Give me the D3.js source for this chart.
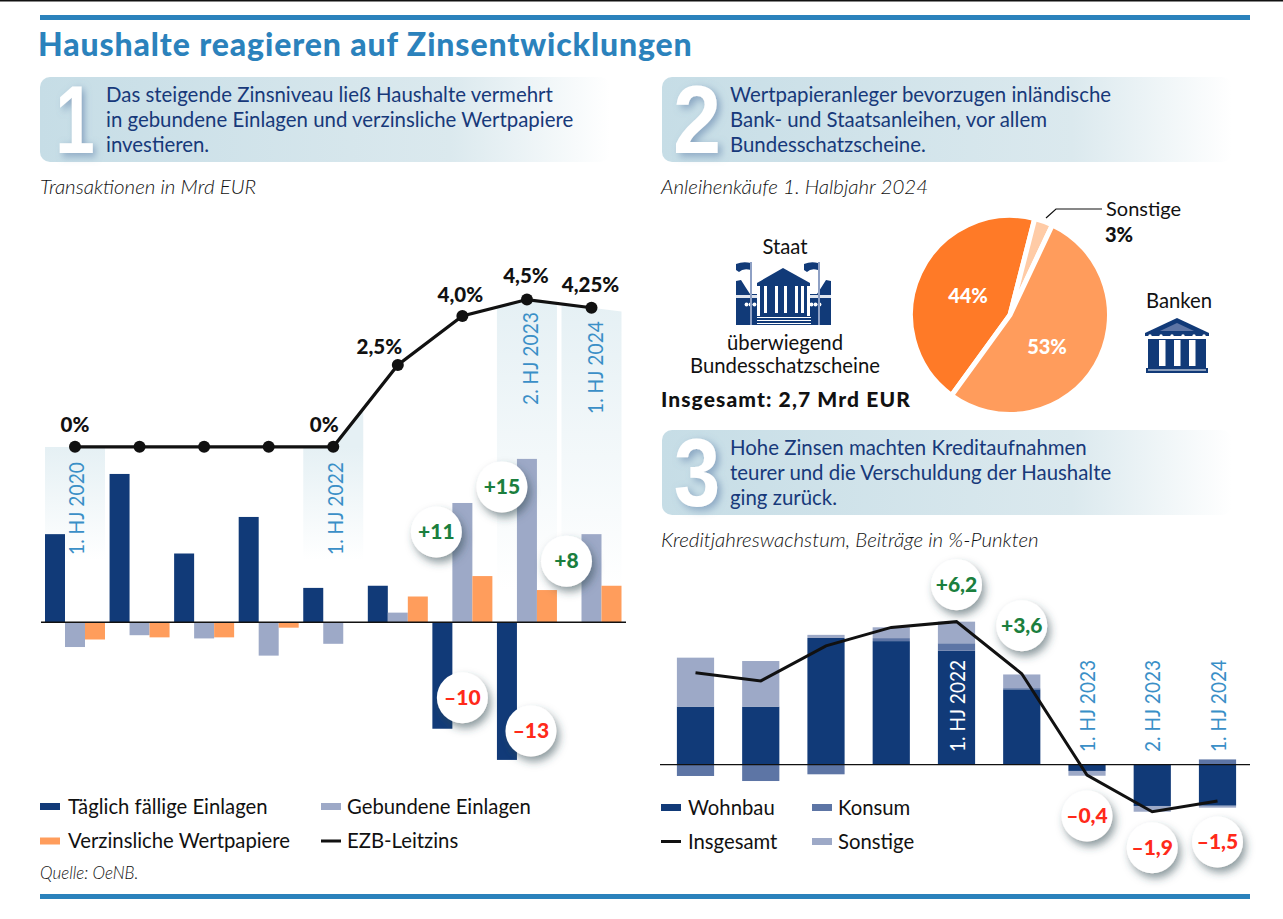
<!DOCTYPE html>
<html lang="de"><head><meta charset="utf-8">
<script src="https://cdnjs.cloudflare.com/ajax/libs/d3/7.9.0/d3.min.js"></script>
<style>
html,body{margin:0;padding:0;background:#fff}
svg{display:block}
text{font-family:Lato,"Noto Sans",sans-serif;fill:#111}
.it{font-style:italic;font-weight:300;fill:#111}
.box{fill:#17397a}
.rot{fill:#3a8fc7;font-size:22px}
.bub{font-weight:900;font-size:21px;text-anchor:middle}
</style></head><body>
<svg id="c" width="1283" height="919"></svg>
<script>
// ---------- data ----------
const periods = ['1. HJ 2020','2. HJ 2020','1. HJ 2021','2. HJ 2021','1. HJ 2022','2. HJ 2022','1. HJ 2023','2. HJ 2023','1. HJ 2024'];
const taeglich = [8.2,13.8,6.4,9.8,3.2,3.4,-9.9,-12.8,0];
const gebunden = [-2.3,-1.2,-1.5,-3.1,-2.0,0.9,11.1,15.2,8.2];
const wertpapiere = [-1.6,-1.4,-1.4,-0.5,0,2.4,4.3,3.0,3.4];
const leitzins = [0,0,0,0,0,2.5,4.0,4.5,4.25];
const leitzinsLabels = ['0%','0%','2,5%','4,0%','4,5%','4,25%'];
const wohnbau = [2.42,2.42,5.28,5.15,4.75,3.14,-0.26,-1.72,-1.71];
const konsum = [-0.47,-0.68,-0.40,0.125,0.31,0.05,0,0,0.22];
const sonstige = [2.04,1.9,0.13,0.45,0.9,0.57,-0.2,-0.24,-0.08];
const insgesamt = [3.83,3.49,4.95,5.72,5.96,3.79,-0.43,-1.96,-1.51];
const pieCategories = ['Staat','Sonstige','Banken'];
const pieValues = [44,3,53];
const bubbles1 = ['+11','+15','+8','–10','–13'];
const bubbles3 = ['+6,2','+3,6','–0,4','–1,9','–1,5'];
const legend1 = ['Täglich fällige Einlagen','Gebundene Einlagen','Verzinsliche Wertpapiere','EZB-Leitzins'];
const legend3 = ['Wohnbau','Konsum','Insgesamt','Sonstige'];

// ---------- palette ----------
const NAVY='#113a78',GREY='#9da9c7',ORANGE='#ff9d5c',KONS='#5d75a5',BLUE='#2b82bc',GREEN='#1b7f3e',RED='#ff2a1a';

const svg=d3.select('#c');
const defs=svg.append('defs');
const sh=defs.append('filter').attr('id','sh').attr('x','-40%').attr('y','-40%').attr('width','190%').attr('height','190%');
sh.append('feDropShadow').attr('dx',3).attr('dy',5).attr('stdDeviation',4.5).attr('flood-color','#33484f').attr('flood-opacity',.55);
const nsh=defs.append('filter').attr('id','nsh').attr('x','-40%').attr('y','-20%').attr('width','190%').attr('height','150%');
nsh.append('feDropShadow').attr('dx',4).attr('dy',3).attr('stdDeviation',4).attr('flood-color','#5f7fa8').attr('flood-opacity',.6);
const bg=defs.append('linearGradient').attr('id','boxg');
bg.append('stop').attr('offset','0').attr('stop-color','#c6dde6');
bg.append('stop').attr('offset','.72').attr('stop-color','#dbe9ee');
bg.append('stop').attr('offset','1').attr('stop-color','#ffffff');

// ---------- frame ----------
svg.append('rect').attr('x',0).attr('y',0).attr('width',1283).attr('height',1.5).attr('fill','#111');
[15,894].forEach(y=>svg.append('rect').attr('x',40).attr('y',y).attr('width',1210).attr('height',5).attr('fill',BLUE));
svg.append('text').attr('x',38).attr('y',56).attr('font-size',32).attr('font-weight',900).attr('letter-spacing',.88).style('fill',BLUE).text('Haushalte reagieren auf Zinsentwicklungen');

function box(x,y,num,lines,tx,sx){
  svg.append('rect').attr('x',x).attr('y',y).attr('width',570).attr('height',85).attr('rx',10).attr('fill','url(#boxg)');
  svg.append('text').attr('transform',`translate(${x+35},${y+76}) scale(${sx},1)`).attr('text-anchor','middle').attr('font-size',96).attr('font-weight',700)
    .style('font-family','"Liberation Sans",Arial,sans-serif').style('fill','#fff').attr('filter','url(#nsh)').text(num);
  lines.forEach((t,i)=>svg.append('text').attr('class','box').attr('x',x+tx).attr('y',y+24.5+i*25).attr('font-size',20.4).text(t));
}
box(40,77,'1',['Das steigende Zinsniveau ließ Haushalte vermehrt','in gebundene Einlagen und verzinsliche Wertpapiere','investieren.'],66,.74);
box(662,77,'2',['Wertpapieranleger bevorzugen inländische','Bank- und Staatsanleihen, vor allem','Bundesschatzscheine.'],68,.9);
box(662,430,'3',['Hohe Zinsen machten Kreditaufnahmen','teurer und die Verschuldung der Haushalte','ging zurück.'],68,.87);
[[40,194,'Transaktionen in Mrd EUR'],[661,194,'Anleihenkäufe 1. Halbjahr 2024'],[661,547,'Kreditjahreswachstum, Beiträge in %-Punkten']]
 .forEach(d=>svg.append('text').attr('class','it').attr('x',d[0]).attr('y',d[1]).attr('font-size',20.5).text(d[2]));
svg.append('text').attr('class','it').attr('x',40).attr('y',879).attr('font-size',17).text('Quelle: OeNB.');

// ---------- chart 1 ----------
const x1=d3.scalePoint().domain(periods).range([75,591.5]);
const y1=d3.scaleLinear().domain([0,10]).range([622.3,514.8]);
const yR=d3.scaleLinear().domain([0,2.5]).range([446.8,365]);
const rateLine=d3.line().x((d,i)=>x1(periods[i])).y(d=>yR(d));

// shaded period columns, topped by the rate line
const step=x1.step();
const extra=[{x:20,y:yR(0)},...leitzins.map((d,i)=>({x:x1(periods[i]),y:yR(d)})),
  {x:x1(periods[8])+40,y:yR(leitzins[8]+(leitzins[8]-leitzins[7])*40/step)}];
const clipArea=d3.area().x(d=>d.x).y0(640).y1(d=>d.y);
defs.append('clipPath').attr('id','underRate').append('path').attr('d',clipArea(extra));
[[0,447,560],[4,400,560],[7,290,590],[8,290,590]].forEach(([k,t,b])=>{
  const g=defs.append('linearGradient').attr('id','sg'+k).attr('gradientUnits','userSpaceOnUse').attr('x1',0).attr('x2',0).attr('y1',k<5?447:t+10).attr('y2',b);
  g.append('stop').attr('offset',0).attr('stop-color','#e5f0f4');
  g.append('stop').attr('offset',1).attr('stop-color','#ffffff');
  svg.append('rect').attr('x',x1(periods[k])-30).attr('y',t).attr('width',60).attr('height',b-t)
    .attr('fill',`url(#sg${k})`).attr('clip-path','url(#underRate)');
});
[['1. HJ 2020',75.5,555],['1. HJ 2022',334.5,555],['2. HJ 2023',529.5,405],['1. HJ 2024',594.5,414]].forEach(d=>
  svg.append('text').attr('class','rot').attr('textLength',93).attr('lengthAdjust','spacingAndGlyphs').attr('transform',`translate(${d[1]+8},${d[2]}) rotate(-90)`).text(d[0]));

const series1=[[taeglich,NAVY],[gebunden,GREY],[wertpapiere,ORANGE]];
series1.forEach(([vals,col],s)=>{
  svg.append('g').selectAll('rect').data(vals).join('rect')
   .attr('x',(d,i)=>x1(periods[i])-30+s*20).attr('width',20)
   .attr('y',d=>Math.min(y1(0),y1(d))).attr('height',d=>Math.abs(y1(d)-y1(0))).attr('fill',col);
});
svg.append('line').attr('x1',41).attr('x2',626).attr('y1',y1(0)).attr('y2',y1(0)).attr('stroke','#111').attr('stroke-width',1.5);
svg.append('path').attr('d',rateLine(leitzins)).attr('fill','none').attr('stroke','#111').attr('stroke-width',3.2);
svg.append('g').selectAll('circle').data(leitzins).join('circle')
  .attr('cx',(d,i)=>x1(periods[i])).attr('cy',d=>yR(d)).attr('r',6).attr('fill','#111');
const rateIdx=[0,4,5,6,7,8], rateDx=[0,-9,-18.5,-2,-1,-1], rateDy=[-15,-15,-11,-14,-17,-15.5];
leitzinsLabels.forEach((t,k)=>{const i=rateIdx[k];
  svg.append('text').attr('x',x1(periods[i])+rateDx[k]).attr('y',yR(leitzins[i])+rateDy[k]).attr('text-anchor','middle')
   .attr('font-size',20.5).attr('font-weight',900).text(t);});

function bubble(cx,cy,t){
  svg.append('circle').attr('cx',cx).attr('cy',cy).attr('r',25.5).attr('fill','#fff').attr('filter','url(#sh)');
  svg.append('text').attr('class','bub').attr('x',cx).attr('y',cy+7).style('fill',t[0]==='+'?GREEN:RED).text(t);
}
const bub1Idx=[6,7,8,6,7],bub1Dx=[-26,-25,-25,0,4],bub1Val=[gebunden,gebunden,gebunden,taeglich,taeglich],bub1Dy=[29,28,27,-31,-29];
bubbles1.forEach((t,k)=>{const i=bub1Idx[k];bubble(x1(periods[i])+bub1Dx[k],y1(bub1Val[k][i])+bub1Dy[k],t);});

// legend 1
function legend(names,xs,tx,ys,cols){
  names.forEach((t,i)=>{const c=i%2,r=i>>1,col=cols[i];
    if(col==='line') svg.append('rect').attr('x',xs[c]).attr('y',ys[r]+2).attr('width',20).attr('height',3).attr('fill','#111');
    else svg.append('rect').attr('x',xs[c]).attr('y',ys[r]).attr('width',20).attr('height',7).attr('fill',col);
    svg.append('text').attr('x',tx[c]).attr('y',ys[r]+10.5).attr('font-size',20.3).text(t);});
}
legend(legend1,[40,321],[68,347],[803,837.5],[NAVY,GREY,ORANGE,'line']);

// ---------- chart 2: pie ----------
const pie=d3.pie().sort(null).startAngle(216*Math.PI/180).endAngle(576*Math.PI/180)(pieValues);
const arc=d3.arc().innerRadius(0).outerRadius(99.5);
const pieG=svg.append('g').attr('transform','translate(1010,315)');
pieG.selectAll('path').data(pie).join('path').attr('d',arc).attr('fill',(d,i)=>['#ff7a27','#ffcba6','#ff9c5c'][i]).attr('stroke','#fff').attr('stroke-width',5).attr('stroke-linejoin','miter');
svg.append('path').attr('d','M1046,218L1056,209H1102').attr('fill','none').attr('stroke','#111').attr('stroke-width',1.2);
[[968,303,'44%'],[1047,354,'53%']].forEach(d=>svg.append('text').attr('x',d[0]).attr('y',d[1]).attr('text-anchor','middle').attr('font-size',20).attr('font-weight',900).style('fill','#fff').text(d[2]));
svg.append('text').attr('x',1106).attr('y',216).attr('font-size',20).text('Sonstige');
svg.append('text').attr('x',1105).attr('y',242).attr('font-size',20).attr('font-weight',900).text('3%');
[[785,254,'Staat'],[785,350,'überwiegend'],[785,373,'Bundesschatzscheine'],[1179,307.5,'Banken']].forEach(d=>
  svg.append('text').attr('x',d[0]).attr('y',d[1]).attr('text-anchor','middle').attr('font-size',20.3).text(d[2]));
svg.append('text').attr('x',661).attr('y',406.5).attr('font-size',21).attr('letter-spacing',1.1).attr('font-weight',900).text('Insgesamt: 2,7 Mrd EUR');

// Staat icon
const st=svg.append('g');
const P=(g,d,f)=>g.append('path').attr('d',d).attr('fill',f);
P(st,'M736,325V281L741,280Q746,288 750,294H757V325Z',NAVY);
P(st,'M831,325V281L826,280Q821,288 817,294H810V325Z',NAVY);
P(st,'M736,295H757V298H736ZM810,295H831V298H810Z','#dfe5ef');
[747,751,755,812,816,820].forEach(x=>st.append('circle').attr('cx',x-0.5).attr('cy',304.5).attr('r',1.9).attr('fill','#fff'));
P(st,'M757,283L783,268L810,283V286H757Z',NAVY);
P(st,'M760,286H807V316H760Z',NAVY);
[764,775,784,795,801].forEach(x=>st.append('rect').attr('x',x).attr('y',286).attr('width',3).attr('height',27).attr('fill','#fff'));
P(st,'M757,316H810V325H757Z',NAVY);
[317,320,323].forEach(y=>st.append('rect').attr('x',757).attr('y',y).attr('width',54).attr('height',1).attr('fill','#fff'));
P(st,'M736,264Q743,261 751,263V270Q743,268 739,272L736,270Z',NAVY);
P(st,'M804,264Q811,261 818,263V270Q811,268 807,272L804,270Z',NAVY);
P(st,'M750,262H752V325H750ZM818,262H820V325H818Z','#8ea0c4');
// Banken icon
const bk=svg.append('g');
P(bk,'M1145,333L1177,318L1209,333V336H1145Z',NAVY);
P(bk,'M1160,331L1177,323L1194,331Z','#5d75a5');
[1150,1161,1172,1183,1194,1204].forEach(x=>bk.append('circle').attr('cx',x).attr('cy',336).attr('r',1.7).attr('fill','#fff'));
P(bk,'M1148,339H1206V368H1148Z',NAVY);
[1159,1174,1189].forEach(x=>bk.append('rect').attr('x',x).attr('y',340).attr('width',6.5).attr('height',26).attr('fill','#fff'));
P(bk,'M1146,368H1208V373H1146Z',NAVY);
bk.append('rect').attr('x',1148).attr('y',369.5).attr('width',58).attr('height',1).attr('fill','#fff');

// ---------- chart 3 ----------
const x3=d3.scalePoint().domain(periods).range([695.5,1217.5]);
const y3=d3.scaleLinear().domain([0,1]).range([764.7,740.7]);
const keys=['wohnbau','konsum','sonstige'], cols3={wohnbau:NAVY,konsum:KONS,sonstige:GREY};
const table=periods.map((p,i)=>({p,wohnbau:wohnbau[i],konsum:konsum[i],sonstige:sonstige[i]}));
const stacked=d3.stack().keys(keys).offset(d3.stackOffsetDiverging)(table);
svg.append('g').selectAll('g').data(stacked).join('g').attr('fill',d=>cols3[d.key])
 .selectAll('rect').data(d=>d).join('rect')
 .attr('x',d=>x3(d.data.p)-18.6).attr('width',37.2)
 .attr('y',d=>y3(Math.max(d[0],d[1]))).attr('height',d=>Math.abs(y3(d[0])-y3(d[1])));
svg.append('line').attr('x1',660).attr('x2',1250).attr('y1',y3(0)).attr('y2',y3(0)).attr('stroke','#111').attr('stroke-width',1.3);
[['1. HJ 2022',4,'#fff'],['1. HJ 2023',6,null],['2. HJ 2023',7,null],['1. HJ 2024',8,null]].forEach(d=>{
  const t=svg.append('text').attr('class','rot').attr('textLength',92).attr('lengthAdjust','spacingAndGlyphs').attr('transform',`translate(${x3(periods[d[1]])+8},752) rotate(-90)`).text(d[0]);
  if(d[2]) t.style('fill',d[2]);
});
svg.append('path').attr('d',d3.line().x((d,i)=>x3(periods[i])).y(d=>y3(d))(insgesamt)).attr('fill','none').attr('stroke','#111').attr('stroke-width',3);
const bub3Idx=[4,5,6,7,8],bub3Dy=[-37,-48,41,36,41];
bubbles3.forEach((t,k)=>{const i=bub3Idx[k];bubble(x3(periods[i]),y3(insgesamt[i])+bub3Dy[k],t);});
legend(legend3,[661,812],[688,838],[804,838],[NAVY,KONS,'line',GREY]);
</script>
</body></html>
